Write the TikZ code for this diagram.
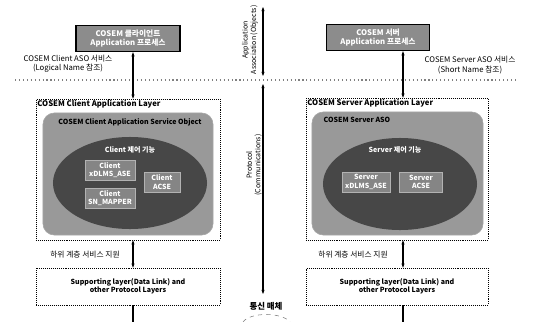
\documentclass[tikz,border=0pt]{standalone}
\usepackage{fontspec}
\setmainfont{Noto Sans CJK KR}
\usetikzlibrary{shapes.geometric,arrows.meta}

\begin{document}
\begin{tikzpicture}[
  x=0.025cm, y=-0.025cm,
  every node/.style={font=\fontsize{5.5}{6.5}\selectfont, align=center, inner sep=1pt},
  procbox/.style={draw=black, line width=1pt, fill=black!45, text=white, font=\bfseries\fontsize{5.5}{6.5}\selectfont, minimum height=0.65cm},
  layerbox/.style={draw, densely dotted, minimum width=4.6cm},
  asobox/.style={draw=gray!70, fill=black!40, rounded corners=8pt},
  ctrlell/.style={ellipse, fill=black!72, minimum width=3.85cm, minimum height=2.3cm},
  asebox/.style={fill=black!48, draw=black!30, text=white, font=\bfseries\fontsize{5}{6}\selectfont, minimum height=0.5cm},
  dualarrow/.style={{Stealth[length=3pt]}-{Stealth[length=3pt]}, line width=1pt}
]
\useasboundingbox (0,0) rectangle (533,322);

% client side
\node[procbox, minimum width=2.6cm] (cproc) at (128,38.5) {COSEM 클라이언트\\Application 프로세스};
\node (cserv) at (68,64) {COSEM Client ASO 서비스\\(Logical Name 참조)};
\node[layerbox, minimum height=3.525cm] (clayer) at (128,169.5) {};
\node[anchor=north west, font=\bfseries\fontsize{5.5}{6.5}\selectfont] at (clayer.north west) {COSEM Client Application Layer};
\node[asobox, minimum width=4.25cm, minimum height=3.05cm] (caso) at (128,174) {};
\node[font=\bfseries\fontsize{5}{6}\selectfont] at (130,122) {COSEM Client Application Service Object};
\node[ctrlell] (cctrl) at (130,183) {};
\node[text=white, font=\bfseries\fontsize{5}{6}\selectfont] at (130,150) {Client 제어 기능};
\node[asebox, minimum width=1.25cm] (cxdlms) at (110,170) {Client\\xDLMS\_ASE};
\node[asebox, minimum width=1.25cm] (csnmap) at (110,198) {Client\\SN\_MAPPER};
\node[asebox, minimum width=0.9cm] (cacse) at (162,182) {Client\\ACSE};
\node (clow) at (85,255) {하위 계층 서비스 지원};
\node[layerbox, minimum height=0.925cm, font=\bfseries\fontsize{5}{6}\selectfont] (csupp) at (128,286.5) {Supporting layer(Data Link) and\\other Protocol Layers};

% server side
\node[procbox, minimum width=2.575cm] (sproc) at (378,37.5) {COSEM 서버\\Application 프로세스};
\node (sserv) at (470,65) {COSEM Server ASO 서비스\\(Short Name 참조)};
\node[layerbox, minimum width=4.55cm, minimum height=3.55cm] (slayer) at (397,169) {};
\node[anchor=north west, font=\bfseries\fontsize{5.5}{6.5}\selectfont] at (slayer.north west) {COSEM Server Application Layer};
\node[asobox, minimum width=4.275cm, minimum height=3.075cm] (saso) at (397.5,173.5) {};
\node[anchor=west, font=\bfseries\fontsize{5}{6}\selectfont] at (322,120) {COSEM Server ASO};
\node[ctrlell] (sctrl) at (400,184) {};
\node[text=white, font=\bfseries\fontsize{5}{6}\selectfont] at (395,150) {Server 제어 기능};
\node[asebox, minimum width=1.2cm] (sxdlms) at (366,182) {Server\\xDLMS\_ASE};
\node[asebox, minimum width=1.075cm] (sacse) at (421,182) {Server\\ACSE};
\node (slow) at (353,255) {하위 계층 서비스 지원};
\node[layerbox, minimum width=4.55cm, minimum height=0.925cm, font=\bfseries\fontsize{5}{6}\selectfont] (ssupp) at (397,286.5) {Supporting layer(Data Link) and\\other Protocol Layers};

% middle
\coordinate (dleft) at (15,80);
\coordinate (dright) at (518,80);
\draw[gray, dotted, thick] (dleft) -- (dright);
\coordinate (cax) at (133,0);
\coordinate (sax) at (403,0);
\coordinate (atop) at (263,7);
\coordinate (amidu) at (263,76);
\coordinate (amidl) at (263,84);
\coordinate (abot) at (263,294);
\coordinate (cend) at (133,322);
\coordinate (send) at (403,322);

\draw[dualarrow] (cproc.south -| cax) -- (clayer.north -| cax);
\draw[dualarrow] (clayer.south -| cax) -- (csupp.north -| cax);
\draw[line width=1pt] (csupp.south -| cax) -- (cend);
\draw[dualarrow] (sproc.south -| sax) -- (slayer.north -| sax);
\draw[dualarrow] (slayer.south -| sax) -- (ssupp.north -| sax);
\draw[line width=1pt] (ssupp.south -| sax) -- (send);
\draw[dualarrow] (atop) -- (amidu);
\draw[dualarrow] (amidl) -- (abot);

\node[rotate=90, font=\fontsize{5}{6}\selectfont] (assoc) at (250,40) {Application\\Association (Objects)};
\node[rotate=90, font=\fontsize{5}{6}\selectfont] (proto) at (254,165) {Protocol\\(Communications)};
\node[font=\bfseries\fontsize{6}{7}\selectfont] (medium) at (266,306) {통신 매체};
\draw[dashed, gray] (243,322) .. controls (250,312) and (282,312) .. (290,322);
\end{tikzpicture}
\end{document}
